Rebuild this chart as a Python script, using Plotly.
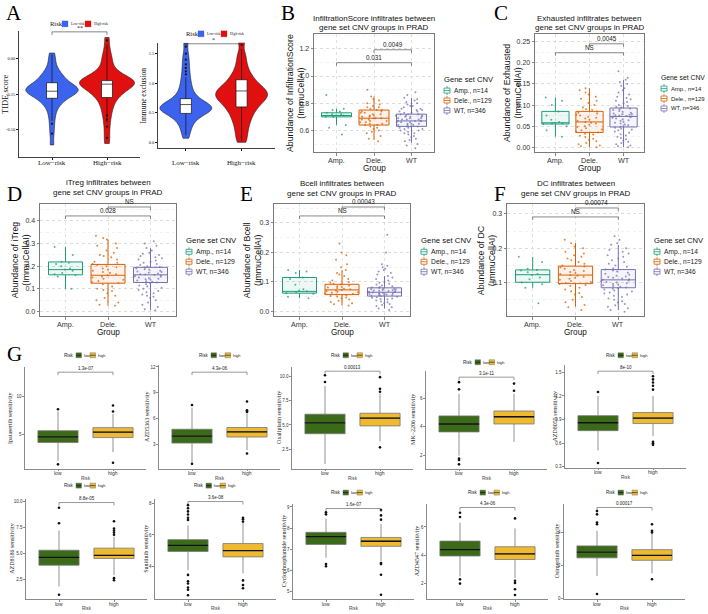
import plotly.graph_objects as go

W, H = 708, 614
SANS = "Liberation Sans, Arial, sans-serif"
SERIF = "Liberation Serif, Times New Roman, serif"

# ======================= DATA =======================
# ---- Panel A (violins) ----
risk_groups = ["Low−risk", "High−risk"]
risk_legend = ["Low-risk", "High-risk"]
tide_low = [0.04, 0.0, -0.04, -0.07, -0.09, -0.11, -0.12, -0.13, -0.14, -0.15, -0.16, -0.17,
            -0.18, -0.19, -0.19, -0.20, -0.20, -0.21, -0.21, -0.22, -0.22, -0.22, -0.23, -0.23,
            -0.23, -0.24, -0.24, -0.25, -0.25, -0.26, -0.27, -0.28, -0.29, -0.30, -0.31, -0.33,
            -0.35, -0.38, -0.42, -0.47, -0.53, -0.61]
tide_high = [0.15, 0.08, 0.03, 0.0, -0.03, -0.06, -0.08, -0.10, -0.11, -0.12, -0.13, -0.14,
             -0.14, -0.15, -0.15, -0.16, -0.16, -0.17, -0.17, -0.18, -0.18, -0.19, -0.19, -0.20,
             -0.20, -0.21, -0.22, -0.23, -0.24, -0.25, -0.26, -0.27, -0.29, -0.31, -0.33, -0.36,
             -0.39, -0.43, -0.48, -0.54, -0.60]
tide_stats = [[-0.44, -0.28, -0.23, -0.17, 0.03], [-0.45, -0.275, -0.18, -0.155, 0.10]]
tide_outliers = [[-0.46, -0.53], [0.13, -0.40, -0.43, -0.48, -0.56]]
tide_ticks = ["0.00", "-0.25", "-0.50"]

excl_low = [1.68, 1.50, 1.38, 1.28, 1.18, 1.10, 1.02, 0.96, 0.90, 0.85, 0.80, 0.77, 0.74,
            0.71, 0.69, 0.67, 0.65, 0.64, 0.62, 0.61, 0.60, 0.59, 0.58, 0.57, 0.56, 0.55,
            0.54, 0.52, 0.51, 0.49, 0.47, 0.45, 0.42, 0.39, 0.35, 0.30, 0.24, 0.17, 0.07]
excl_high = [1.70, 1.50, 1.38, 1.28, 1.20, 1.14, 1.09, 1.05, 1.01, 0.98, 0.95, 0.92, 0.90,
             0.88, 0.86, 0.84, 0.82, 0.80, 0.78, 0.76, 0.74, 0.72, 0.70, 0.67, 0.64, 0.61,
             0.58, 0.54, 0.50, 0.45, 0.40, 0.34, 0.27, 0.19, 0.10, 0.0]
excl_stats = [[0.12, 0.49, 0.64, 0.74, 1.10], [0.02, 0.60, 0.87, 1.06, 1.58]]
excl_outliers = [[1.15, 1.20, 1.26, 1.32, 1.40, 1.50, 1.62], [1.65]]
excl_ticks = ["0.0", "0.5", "1.0", "1.5"]
a_sig = ["**", "*"]

# ---- Panels B-F (CNV groups) ----
cnv_groups = ["Amp.", "Dele.", "WT"]
cnv_labels = ["Amp., n=14", "Dele., n=129", "WT, n=346"]

score_pts = [
    [0.86, 0.76, 0.75, 0.74, 0.73, 0.72, 0.72, 0.71, 0.71, 0.70, 0.70, 0.64, 0.62, 0.57],
    [0.90, 0.85, 0.83, 0.82, 0.80, 0.79, 0.78, 0.77, 0.77, 0.76, 0.75, 0.75, 0.74, 0.74, 0.73,
     0.73, 0.72, 0.72, 0.71, 0.71, 0.70, 0.70, 0.69, 0.69, 0.69, 0.68, 0.68, 0.67, 0.67, 0.66,
     0.66, 0.65, 0.65, 0.64, 0.64, 0.63, 0.62, 0.61, 0.60, 0.59, 0.58, 0.56, 0.54, 0.52],
    [0.88, 0.86, 0.84, 0.83, 0.82, 0.81, 0.80, 0.79, 0.78, 0.78, 0.77, 0.76, 0.76, 0.75, 0.75,
     0.74, 0.74, 0.73, 0.73, 0.72, 0.72, 0.72, 0.71, 0.71, 0.71, 0.70, 0.70, 0.70, 0.69, 0.69,
     0.69, 0.68, 0.68, 0.68, 0.67, 0.67, 0.67, 0.67, 0.66, 0.66, 0.66, 0.65, 0.65, 0.65, 0.64,
     0.64, 0.64, 0.63, 0.63, 0.63, 0.62, 0.62, 0.61, 0.61, 0.60, 0.60, 0.59, 0.58, 0.58, 0.57,
     0.56, 0.55, 0.54, 0.53, 0.52, 0.50, 0.49, 0.47]]
score_stats = [[0.64, 0.70, 0.71, 0.73, 0.76], [0.53, 0.64, 0.69, 0.75, 0.85], [0.51, 0.63, 0.67, 0.72, 0.84]]
score_p = ["0.0049", "0.031"]
score_ticks = ["0.6", "0.8", "1.0", "1.2"]

exh_pts = [
    [0.118, 0.11, 0.10, 0.085, 0.075, 0.065, 0.06, 0.058, 0.057, 0.056, 0.055, 0.05, 0.04, 0.025],
    [0.14, 0.135, 0.13, 0.125, 0.12, 0.115, 0.11, 0.105, 0.10, 0.095, 0.09, 0.088, 0.085, 0.082,
     0.08, 0.077, 0.075, 0.072, 0.07, 0.068, 0.065, 0.063, 0.06, 0.058, 0.056, 0.053, 0.05, 0.048,
     0.045, 0.042, 0.04, 0.037, 0.035, 0.032, 0.03, 0.027, 0.024, 0.02, 0.017, 0.014, 0.01,
     0.007, 0.004, 0.002, 0.0],
    [0.18, 0.165, 0.16, 0.155, 0.15, 0.145, 0.14, 0.135, 0.13, 0.125, 0.12, 0.117, 0.114, 0.11,
     0.107, 0.104, 0.10, 0.098, 0.096, 0.094, 0.092, 0.09, 0.088, 0.086, 0.084, 0.082, 0.08,
     0.079, 0.078, 0.077, 0.076, 0.075, 0.074, 0.073, 0.072, 0.071, 0.07, 0.068, 0.066, 0.064,
     0.062, 0.06, 0.058, 0.056, 0.054, 0.052, 0.05, 0.048, 0.046, 0.044, 0.042, 0.04, 0.037,
     0.034, 0.031, 0.028, 0.025, 0.022, 0.019, 0.016, 0.013, 0.01, 0.007, 0.004, 0.002, 0.0]]
exh_stats = [[0.025, 0.055, 0.058, 0.085, 0.118], [0.0, 0.035, 0.06, 0.085, 0.14], [0.0, 0.048, 0.073, 0.093, 0.16]]
exh_p = ["0.0045", "NS"]
exh_ticks = ["0.00", "0.05", "0.10", "0.15", "0.20", "0.25"]

itreg_pts = [
    [0.285, 0.25, 0.22, 0.215, 0.21, 0.20, 0.19, 0.185, 0.18, 0.17, 0.165, 0.16, 0.155, 0.10],
    [0.335, 0.325, 0.318, 0.30, 0.29, 0.28, 0.27, 0.26, 0.25, 0.245, 0.24, 0.23, 0.22, 0.215,
     0.21, 0.205, 0.20, 0.195, 0.19, 0.185, 0.18, 0.175, 0.17, 0.165, 0.16, 0.155, 0.15, 0.145,
     0.14, 0.135, 0.13, 0.125, 0.12, 0.11, 0.10, 0.095, 0.09, 0.08, 0.07, 0.06, 0.05, 0.04,
     0.03, 0.025],
    [0.31, 0.30, 0.29, 0.28, 0.27, 0.26, 0.255, 0.25, 0.245, 0.24, 0.235, 0.23, 0.225, 0.22,
     0.215, 0.21, 0.205, 0.20, 0.197, 0.194, 0.19, 0.187, 0.184, 0.18, 0.177, 0.174, 0.171,
     0.168, 0.165, 0.163, 0.161, 0.159, 0.157, 0.155, 0.152, 0.15, 0.147, 0.145, 0.142, 0.14,
     0.137, 0.134, 0.131, 0.128, 0.125, 0.12, 0.115, 0.11, 0.105, 0.10, 0.095, 0.09, 0.085,
     0.08, 0.075, 0.07, 0.065, 0.06, 0.05, 0.04, 0.03, 0.02, 0.01, 0.005]]
itreg_stats = [[0.10, 0.162, 0.185, 0.219, 0.285], [0.025, 0.125, 0.16, 0.208, 0.318], [0.005, 0.128, 0.162, 0.195, 0.28]]
itreg_p = ["NS", "0.028"]
itreg_ticks = ["0.0", "0.1", "0.2", "0.3", "0.4"]

bcell_pts = [
    [0.14, 0.135, 0.13, 0.115, 0.11, 0.09, 0.075, 0.07, 0.068, 0.065, 0.062, 0.06, 0.05, 0.045],
    [0.23, 0.20, 0.19, 0.175, 0.16, 0.15, 0.14, 0.13, 0.125, 0.12, 0.11, 0.105, 0.10, 0.097,
     0.094, 0.091, 0.088, 0.085, 0.083, 0.081, 0.079, 0.077, 0.075, 0.073, 0.071, 0.069, 0.067,
     0.065, 0.063, 0.061, 0.059, 0.057, 0.055, 0.052, 0.05, 0.047, 0.044, 0.04, 0.036, 0.032,
     0.028, 0.024, 0.02],
    [0.26, 0.20, 0.16, 0.155, 0.15, 0.145, 0.14, 0.135, 0.13, 0.125, 0.12, 0.115, 0.11, 0.105,
     0.10, 0.097, 0.094, 0.091, 0.088, 0.085, 0.083, 0.081, 0.079, 0.077, 0.076, 0.075, 0.074,
     0.073, 0.072, 0.071, 0.07, 0.069, 0.068, 0.067, 0.066, 0.065, 0.064, 0.063, 0.062, 0.061,
     0.06, 0.059, 0.058, 0.057, 0.056, 0.055, 0.054, 0.053, 0.052, 0.05, 0.048, 0.046, 0.044,
     0.042, 0.04, 0.037, 0.034, 0.031, 0.028, 0.025, 0.022, 0.018, 0.014, 0.01, 0.005]]
bcell_stats = [[0.045, 0.062, 0.068, 0.115, 0.14], [0.02, 0.057, 0.073, 0.092, 0.14], [0.01, 0.052, 0.065, 0.08, 0.12]]
bcell_p = ["0.00043", "NS"]
bcell_ticks = ["0.0", "0.1", "0.2", "0.3"]

dc_pts = [
    [0.175, 0.16, 0.14, 0.137, 0.135, 0.13, 0.125, 0.122, 0.115, 0.11, 0.10, 0.095, 0.085, 0.04],
    [0.225, 0.215, 0.205, 0.20, 0.19, 0.185, 0.18, 0.175, 0.17, 0.165, 0.16, 0.155, 0.15, 0.147,
     0.144, 0.14, 0.137, 0.134, 0.131, 0.128, 0.125, 0.122, 0.12, 0.117, 0.114, 0.111, 0.108,
     0.105, 0.102, 0.099, 0.096, 0.093, 0.09, 0.085, 0.08, 0.075, 0.07, 0.065, 0.058, 0.05,
     0.043, 0.035, 0.028, 0.02],
    [0.235, 0.225, 0.215, 0.21, 0.20, 0.195, 0.19, 0.185, 0.18, 0.175, 0.17, 0.165, 0.16, 0.155,
     0.15, 0.146, 0.142, 0.138, 0.135, 0.132, 0.129, 0.126, 0.123, 0.12, 0.118, 0.116, 0.114,
     0.112, 0.11, 0.108, 0.106, 0.104, 0.102, 0.10, 0.098, 0.096, 0.094, 0.092, 0.09, 0.088,
     0.086, 0.084, 0.082, 0.08, 0.077, 0.074, 0.071, 0.068, 0.065, 0.062, 0.058, 0.054, 0.05,
     0.046, 0.042, 0.038, 0.034, 0.03, 0.025, 0.02, 0.015]]
dc_stats = [[0.085, 0.101, 0.123, 0.137, 0.175], [0.03, 0.097, 0.122, 0.148, 0.215], [0.02, 0.085, 0.108, 0.138, 0.21]]
dc_p = ["0.00074", "NS"]
dc_ticks = ["0.1", "0.2", "0.3"]

# ---- Panel G (drug sensitivity) ----
risk_levels = ["low", "high"]
drug_names = ["Ipatasertib sensitivity", "AZD5363 sensitivity", "Oxaliplatin sensitivity",
              "MK−2206 sensitivity", "AZD8055 sensitivity", "AZD8186 sensitivity",
              "Sunitinib sensitivity", "Cyclophosphamide sensitivity", "AZD4547 sensitivity",
              "Osimertinib sensitivity"]
drug_low_stats = [[1.6, 3.95, 4.7, 5.5, 8.0], [1.0, 3.2, 4.0, 4.8, 7.3], [1.0, 4.1, 5.2, 6.1, 9.0],
                  [2.0, 3.65, 4.2, 4.76, 6.3], [0.51, 0.76, 0.86, 0.95, 1.2], [1.8, 3.85, 4.6, 5.3, 7.2],
                  [3.75, 4.95, 5.33, 5.7, 6.6], [6.6, 7.23, 7.6, 7.8, 8.45], [2.5, 3.95, 4.4, 5.0, 6.3],
                  [1.35, 2.45, 2.8, 3.18, 4.1]]
drug_high_stats = [[2.7, 4.6, 5.3, 5.9, 7.7], [2.4, 3.9, 4.5, 5.0, 6.6], [3.3, 4.9, 5.7, 6.2, 8.2],
                   [2.96, 4.2, 4.7, 5.1, 6.3], [0.69, 0.85, 0.92, 0.99, 1.2], [2.9, 4.5, 4.8, 5.5, 6.6],
                   [3.55, 4.6, 5.0, 5.45, 6.8], [6.45, 7.14, 7.38, 7.56, 8.2], [2.4, 3.7, 4.1, 4.6, 5.9],
                   [1.5, 2.3, 2.6, 2.95, 3.95]]
drug_low_out = [[8.3, 1.1], [7.6, 0.8], [10.1, 9.4], [7.1, 6.6, 1.8, 1.7, 1.4], [1.25, 0.35],
                [9.4, 7.9, 1.0], [7.9, 7.7, 7.5, 7.3, 7.1, 6.95, 3.45, 3.05, 2.9, 2.65, 2.5, 2.15],
                [8.75, 8.65, 6.3, 6.2], [7.0, 6.7, 2.3, 2.0], [5.3, 5.1, 4.6, 4.5, 0.25]]
drug_high_out = [[8.8, 8.0, 1.3], [8.0, 7.0, 6.9, 6.8, 2.0], [9.9, 8.7, 8.4, 2.7], [7.0, 6.5],
                 [1.45, 1.41, 1.37, 1.33, 1.28, 0.62, 0.60, 0.58], [8.1, 7.4, 7.2, 7.0, 6.8, 2.6, 2.4],
                 [7.1, 7.0, 6.85, 3.1, 2.8, 2.6], [8.85, 8.6, 8.4, 6.35, 6.3, 5.8, 4.85],
                 [6.6, 2.2, 2.05, 1.6, 1.2], [4.5, 4.1, 4.0, 1.15]]
drug_p = ["1.3e-07", "4.3e-06", "0.00013", "3.1e-11", "8e-10",
          "8.8e-05", "3.6e-08", "1.6e-07", "4.3e-06", "0.00017"]
drug_ticks = [["5", "10"], ["3", "6", "9", "12"], ["2.5", "5.0", "7.5", "10.0"], ["2", "4", "6"],
              ["0.3", "0.6", "0.9", "1.2", "1.5"], ["2.5", "5.0", "7.5", "10.0"], ["4", "6", "8"],
              ["5", "6", "7", "8", "9"], ["2", "4", "6"], ["0", "2", "4"]]

# ======================= HELPERS =======================
fig = go.Figure()
layout = dict(width=W, height=H, autosize=False, margin=dict(l=0, r=0, t=0, b=0, pad=0),
              paper_bgcolor="white", plot_bgcolor="white", showlegend=False,
              boxmode="overlay", violinmode="overlay", hovermode=False)
shapes, annotations = [], []
axn = [0]


def fx(x):
    return x / W


def fy(y):
    return 1 - y / H


def new_axes(x0, x1, y0, y1, xstyle, ystyle):
    axn[0] += 1
    s = "" if axn[0] == 1 else str(axn[0])
    layout["xaxis" + s] = dict(domain=[fx(x0), fx(x1)], anchor="y" + s, **xstyle)
    layout["yaxis" + s] = dict(domain=[fy(y1), fy(y0)], anchor="x" + s, **ystyle)
    return "x" + s, "y" + s


def text(x, y, s, size, family=SANS, color="#000", angle=0, xanchor="center",
         yanchor="middle", xref="paper", yref="paper"):
    annotations.append(dict(x=fx(x) if xref == "paper" else x, y=fy(y) if yref == "paper" else y,
                            text=s, showarrow=False, textangle=angle, xanchor=xanchor,
                            yanchor=yanchor, xref=xref, yref=yref, borderpad=0,
                            font=dict(size=size, family=family, color=color)))


def cat_labels(xa, cats, ypx, size, family, color):
    for i, c in enumerate(cats):
        annotations.append(dict(x=i, y=fy(ypx), xref=xa, yref="paper", text=c, showarrow=False,
                                xanchor="center", yanchor="middle", borderpad=0,
                                font=dict(size=size, family=family, color=color)))


def pline(x0, y0, x1, y1, color, width, xref="paper"):
    shapes.append(dict(type="line", xref=xref, yref="paper",
                       x0=fx(x0) if xref == "paper" else x0, x1=fx(x1) if xref == "paper" else x1,
                       y0=fy(y0), y1=fy(y1), line=dict(color=color, width=width)))


def prect(x0, y0, x1, y1, line, width, fill):
    shapes.append(dict(type="rect", xref="paper", yref="paper", x0=fx(x0), x1=fx(x1),
                       y0=fy(y1), y1=fy(y0), line=dict(color=line, width=width), fillcolor=fill))


def bracket(xref, i0, i1, ypx, label, size, drop, color="#444", lw=0.7, family=SANS, gap=0.5):
    pline(i0, ypx, i0, ypx + drop, color, lw, xref)
    pline(i0, ypx, i1, ypx, color, lw, xref)
    pline(i1, ypx, i1, ypx + drop, color, lw, xref)
    annotations.append(dict(x=(i0 + i1) / 2, y=fy(ypx - gap), xref=xref, yref="paper", text=label,
                            showarrow=False, xanchor="center", yanchor="bottom", borderpad=0,
                            font=dict(size=size, family=family, color="#222")))


def stat_box(xa, ya, cat, st, color, fill, width, lw):
    lo, q1, med, q3, hi = st
    fig.add_trace(go.Box(x=[cat], q1=[q1], median=[med], q3=[q3], lowerfence=[lo],
                         upperfence=[hi], xaxis=xa, yaxis=ya, width=width,
                         line=dict(color=color, width=lw), fillcolor=fill, whiskerwidth=0,
                         boxpoints=False, hoverinfo="skip", showlegend=False))


def rgba(hexc, a):
    h = hexc.lstrip("#")
    return "rgba(%d,%d,%d,%.2f)" % (int(h[0:2], 16), int(h[2:4], 16), int(h[4:6], 16), a)


def fvals(ticks):
    return [float(t) for t in ticks]


# ======================= PANEL A =======================
BLUE, RED = "#3B63EE", "#E00F10"
a_specs = [
    dict(frame=(19, 140, 30, 157), xr=[-0.6, 1.6], yr=[-0.697, 0.197], low=tide_low, high=tide_high,
         stats=tide_stats, outl=tide_outliers, ticks=tide_ticks, title="TIDE score", tx=5, tsize=8.5,
         bw=0.035, widths=[0.95, 1.0], sig_y=31, leg=(49, 23)),
    dict(frame=(158, 275, 42, 148), xr=[-0.5, 1.6], yr=[-0.10, 1.685], low=excl_low, high=excl_high,
         stats=excl_stats, outl=excl_outliers, ticks=excl_ticks, title="Immune exclusion", tx=144,
         tsize=7.5, bw=0.08, widths=[0.93, 0.93], sig_y=43, leg=(185, 33)),
]
for k, sp in enumerate(a_specs):
    x0, x1, y0, y1 = sp["frame"]
    xa, ya = new_axes(x0, x1, y0, y1,
                      dict(type="category", categoryorder="array", categoryarray=risk_groups,
                           range=sp["xr"], showline=True, linecolor="#111", linewidth=0.8,
                           ticks="outside", ticklen=2, tickcolor="#111", showgrid=False,
                           showticklabels=False),
                      dict(range=sp["yr"], tickvals=fvals(sp["ticks"]), ticktext=sp["ticks"],
                           showline=True, linecolor="#111", linewidth=0.8, ticks="outside",
                           ticklen=2, tickcolor="#111", showgrid=False, zeroline=False,
                           tickfont=dict(family=SERIF, size=4.5, color="#222")))
    for g, vals, col, wv in [(risk_groups[0], sp["low"], BLUE, sp["widths"][0]),
                             (risk_groups[1], sp["high"], RED, sp["widths"][1])]:
        fig.add_trace(go.Violin(x=[g] * len(vals), y=vals, xaxis=xa, yaxis=ya, fillcolor=col,
                                line=dict(color="#202020", width=0.6), width=wv, spanmode="hard",
                                bandwidth=sp["bw"], points=False, scalemode="width", opacity=1,
                                hoverinfo="skip", showlegend=False))
    for j, g in enumerate(risk_groups):
        stat_box(xa, ya, g, sp["stats"][j], "#111", "white", 0.2, 0.7)
        ol = sp["outl"][j]
        fig.add_trace(go.Scatter(x=[g] * len(ol), y=ol, xaxis=xa, yaxis=ya, mode="markers",
                                 marker=dict(size=2.2, color="#111"), hoverinfo="skip",
                                 showlegend=False))
    cat_labels(xa, risk_groups, 163, 7, SERIF, "#111")
    bracket(xa, 0, 1, sp["sig_y"], a_sig[k], 6, 3, color="#333", lw=0.6, family=SERIF, gap=0)
    text(sp["tx"], (y0 + y1) / 2, sp["title"], sp["tsize"], SERIF, "#111", angle=-90)
    lx, lyy = sp["leg"]
    text(lx, lyy, "Risk", 6.5, SERIF, "#111", xanchor="left")
    prect(lx + 13, lyy - 3, lx + 19, lyy + 3, BLUE, 0.3, BLUE)
    text(lx + 20.5, lyy, risk_legend[0], 3.6, SERIF, "#111", xanchor="left")
    prect(lx + 36, lyy - 3, lx + 42, lyy + 3, RED, 0.3, RED)
    text(lx + 43.5, lyy, risk_legend[1], 3.6, SERIF, "#111", xanchor="left")

text(14, 12, "A", 21, SERIF)

# ======================= PANELS B-F =======================
CNV_COLORS = ["#1B9E77", "#D95F02", "#7570B3"]
cnv_specs = [
    dict(letter="B", lxy=(288, 12), frame=(314, 434, 33, 152), yr=[0.44, 1.31], pts=score_pts,
         stats=score_stats, p=score_p, ticks=score_ticks, minor=0.1,
         title=["InfiltrationScore infiltrates between", "gene set CNV groups in PRAD"],
         ty=(18, 27), ytitle="Abundance of InfiltrationScore<br>(ImmuCellAI)", ytx=295,
         brk=(49, 62), leg=(443, 79), lf=(7.6, 6.6)),
    dict(letter="C", lxy=(501, 12), frame=(535, 644, 33, 152), yr=[-0.012, 0.269], pts=exh_pts,
         stats=exh_stats, p=exh_p, ticks=exh_ticks, minor=0.025,
         title=["Exhausted infiltrates between", "gene set CNV groups in PRAD"],
         ty=(18, 27), ytitle="Abundance of Exhausted<br>(ImmuCellAI)", ytx=512,
         brk=(43, 52), leg=(660, 77), lf=(6.8, 5.9)),
    dict(letter="D", lxy=(14, 194), frame=(40, 176, 204, 317), yr=[-0.022, 0.475], pts=itreg_pts,
         stats=itreg_stats, p=itreg_p, ticks=itreg_ticks, minor=0.05,
         title=["iTreg infiltrates between", "gene set CNV groups in PRAD"],
         ty=(182, 192), ytitle="Abundance of iTreg<br>(ImmuCellAI)", ytx=20,
         brk=(207, 216), leg=(185, 241), lf=(7.8, 6.8)),
    dict(letter="E", lxy=(247, 194), frame=(274, 410, 204, 317), yr=[-0.017, 0.364], pts=bcell_pts,
         stats=bcell_stats, p=bcell_p, ticks=bcell_ticks, minor=0.05,
         title=["Bcell infiltrates between", "gene set CNV groups in PRAD"],
         ty=(183, 193), ytitle="Abundance of Bcell<br>(ImmuCellAI)", ytx=252,
         brk=(207, 216), leg=(420, 241), lf=(7.8, 6.8)),
    dict(letter="F", lxy=(500, 194), frame=(507, 644, 204, 317), yr=[0.0014, 0.329], pts=dc_pts,
         stats=dc_stats, p=dc_p, ticks=dc_ticks, minor=0.05,
         title=["DC infiltrates between", "gene set CNV groups in PRAD"],
         ty=(183, 193), ytitle="Abundance of DC<br>(ImmuCellAI)", ytx=486,
         brk=(208, 217), leg=(653, 241), lf=(7.6, 6.6)),
]
for sp in cnv_specs:
    x0, x1, y0, y1 = sp["frame"]
    grid = dict(showgrid=True, gridcolor="#d4d4d4", griddash="dot", gridwidth=0.7)
    xa, ya = new_axes(x0, x1, y0, y1,
                      dict(type="category", categoryorder="array", categoryarray=cnv_groups,
                           range=[-0.6, 2.6], showline=True, mirror=True, linecolor="#6b6b6b",
                           linewidth=0.9, ticks="outside", ticklen=2.5, tickcolor="#555",
                           tickwidth=0.7, showticklabels=False, **grid),
                      dict(range=sp["yr"], tickvals=fvals(sp["ticks"]), ticktext=sp["ticks"],
                           showline=True, mirror=True, linecolor="#6b6b6b", linewidth=0.9,
                           ticks="outside", ticklen=2.5, tickcolor="#555", tickwidth=0.7,
                           zeroline=False, tickfont=dict(family=SANS, size=7, color="#333"),
                           minor=dict(tick0=0, dtick=sp["minor"], showgrid=True,
                                      gridcolor="#e6e6e6", griddash="dot", gridwidth=0.5),
                           **grid))
    for j, g in enumerate(cnv_groups):
        c = CNV_COLORS[j]
        stat_box(xa, ya, g, sp["stats"][j], c, rgba(c, 0.08), 0.8, 1.0)
        vals = sp["pts"][j]
        fig.add_trace(go.Box(x=[g] * len(vals), y=vals, xaxis=xa, yaxis=ya, boxpoints="all",
                             jitter=1.0, pointpos=0, width=0.85, whiskerwidth=0,
                             line=dict(width=0, color="rgba(0,0,0,0)"), fillcolor="rgba(0,0,0,0)",
                             marker=dict(color=c, size=2.0, opacity=0.75, line=dict(width=0)),
                             hoverinfo="skip", showlegend=False))
    cat_labels(xa, cnv_groups, y1 + 8, 7.2, SANS, "#333")
    bracket(xa, 1, 2, sp["brk"][0], sp["p"][0], 6.3, 3, color="#555", lw=0.7)
    bracket(xa, 0, 2, sp["brk"][1], sp["p"][1], 6.3, 3, color="#555", lw=0.7)
    cx = (x0 + x1) / 2
    text(cx, sp["ty"][0], sp["title"][0], 8, SANS, "#111")
    text(cx, sp["ty"][1], sp["title"][1], 8, SANS, "#111")
    text(sp["ytx"], (y0 + y1) / 2, sp["ytitle"], 8.8, SANS, "#111", angle=-90)
    text(cx, y1 + 16, "Group", 8.2, SANS, "#111")
    text(sp["lxy"][0], sp["lxy"][1], sp["letter"], 21, SERIF)
    lx, lyy = sp["leg"]
    tf, itf = sp["lf"]
    text(lx, lyy, "Gene set CNV", tf, SANS, "#111", xanchor="left")
    for j, lab in enumerate(cnv_labels):
        yc = lyy + 11 + 10 * j
        c = CNV_COLORS[j]
        prect(lx + 1, yc - 2.5, lx + 7, yc + 2.5, c, 0.8, "white")
        pline(lx + 1, yc, lx + 7, yc, c, 0.8)
        pline(lx + 4, yc - 4.5, lx + 4, yc - 2.5, c, 0.8)
        pline(lx + 4, yc + 2.5, lx + 4, yc + 4.5, c, 0.8)
        text(lx + 10, yc, lab, itf, SANS, "#222", xanchor="left")

# ======================= PANEL G =======================
G_COLORS = ["#3B6A18", "#EFBA2F"]
g_axis_x = [25, 159, 292, 426, 565, 26, 155, 293, 427, 564]
g_top = [368, 366, 368, 372, 366, 500, 500, 505, 505, 505]
g_bottom = [470, 470, 470, 470, 469, 601, 601, 601, 601, 601]
g_yrange = [[0.53, 13.8], [0.24, 12.2], [0.51, 10.92], [1.1, 7.86], [0.29, 1.59],
            [0.58, 10.29], [1.91, 8.32], [4.65, 9.16], [0.91, 7.65], [-0.06, 5.76]]
g_title_x = [10, 147, 279, 413, 555, 12, 146, 284, 417, 557]
g_leg = [(63, 356), (198, 356), (330, 356), (462, 363), (605, 356),
         (63, 487), (193, 487), (330, 494), (467, 494), (605, 494)]
g_brk = [373, 373, 372, 378, 372, 504, 503, 510, 509, 509]
GAX = "#8a8a8a"
for i in range(10):
    x0 = g_axis_x[i]
    x1 = x0 + 121
    y0, y1 = g_top[i], g_bottom[i]
    xa, ya = new_axes(x0, x1, y0, y1,
                      dict(type="category", categoryorder="array", categoryarray=risk_levels,
                           range=[-0.6, 1.6], showline=True, linecolor=GAX, linewidth=1.2,
                           ticks="outside", ticklen=1.5, tickcolor=GAX, showgrid=False,
                           showticklabels=False),
                      dict(range=g_yrange[i], tickvals=fvals(drug_ticks[i]), ticktext=drug_ticks[i],
                           showline=True, linecolor=GAX, linewidth=1.2, ticks="outside",
                           ticklen=1.5, tickcolor=GAX, showgrid=False, zeroline=False,
                           tickfont=dict(family=SANS, size=4.5, color="#333")))
    for j, lvl in enumerate(risk_levels):
        st = drug_low_stats[i] if j == 0 else drug_high_stats[i]
        stat_box(xa, ya, lvl, st, "#777777", G_COLORS[j], 0.73, 0.8)
        med = st[2]
        stat_box(xa, ya, lvl, [med, med, med, med, med], "#111", "rgba(0,0,0,0)", 0.73, 1.3)
        ol = drug_low_out[i] if j == 0 else drug_high_out[i]
        fig.add_trace(go.Scatter(x=[lvl] * len(ol), y=ol, xaxis=xa, yaxis=ya, mode="markers",
                                 marker=dict(size=2.6, color="#111"), hoverinfo="skip",
                                 showlegend=False))
    cat_labels(xa, risk_levels, y1 + 4.5, 5, SANS, "#333")
    bracket(xa, 0, 1, g_brk[i], drug_p[i], 4.5, 3, color="#555", lw=0.6, gap=0.5)
    text(g_title_x[i], (y0 + y1) / 2, drug_names[i], 6, SERIF, "#222", angle=-90)
    text((x0 + x1) / 2, y1 + 9.5, "Risk", 4.6, SANS, "#444")
    lx, lyy = g_leg[i]
    text(lx, lyy, "Risk", 4.5, SANS, "#222", xanchor="left")
    for j, lab in enumerate(risk_levels):
        bx = lx + 13 + 14 * j
        prect(bx, lyy - 2.5, bx + 5.5, lyy + 2.5, "#777", 0.5, G_COLORS[j])
        pline(bx, lyy, bx + 5.5, lyy, "#111", 0.6)
        text(bx + 7, lyy, lab, 4, SANS, "#222", xanchor="left")

text(14, 355, "G", 21, SERIF)

layout["shapes"] = shapes
layout["annotations"] = annotations
fig.update_layout(**layout)
fig.write_html("out.html", config={"displayModeBar": False, "staticPlot": True},
               post_script="document.body.style.margin='0px';document.body.style.overflow='hidden';")
